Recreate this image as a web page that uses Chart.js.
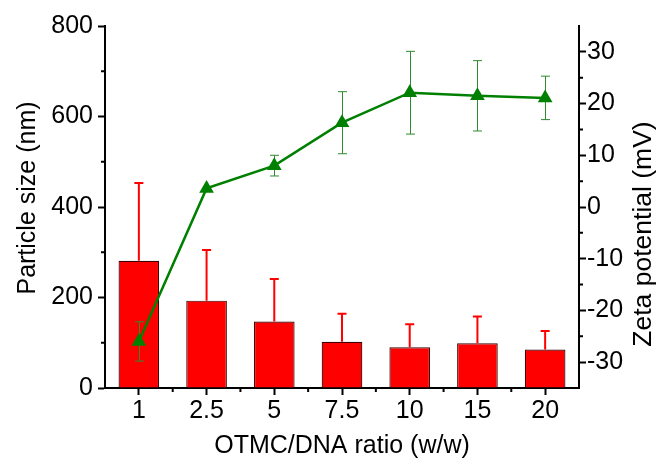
<!DOCTYPE html>
<html>
<head>
<meta charset="utf-8">
<script src="https://cdn.jsdelivr.net/npm/chart.js@4.4.0/dist/chart.umd.min.js"></script>
<style>
  html, body { margin: 0; padding: 0; background: #fff; }
  #wrap { width: 657px; height: 461px; }
</style>
</head>
<body>
<div id="wrap"><canvas id="chart"></canvas></div>
<script>
const ratios = ['1', '2.5', '5', '7.5', '10', '15', '20'];
const particleSize = [281, 193, 147, 102, 90, 99, 85];
const particleErr = [172, 112, 94, 62, 51, 59, 41];
const zeta = [-26, 3.6, 8, 16.3, 22.1, 21.5, 21.1];
const zetaErr = [3.8, 0, 2, 6, 8, 6.8, 4.2];

const xTitle = 'OTMC/DNA ratio (w/w)';
const yTitle = 'Particle size (nm)';
const y2Title = 'Zeta potential (mV)';

const FONT = '"Liberation Sans", Arial, sans-serif';

const errorBars = {
  id: 'errorBars',
  afterDatasetDraw(chart, args) {
    if (args.index !== 0) return;
    const ctx = chart.ctx;
    const y = chart.scales.y;
    const meta = chart.getDatasetMeta(0);
    ctx.save();
    ctx.strokeStyle = '#ff0000';
    ctx.lineWidth = 2;
    meta.data.forEach((bar, i) => {
      const top = y.getPixelForValue(particleSize[i] + particleErr[i]);
      ctx.beginPath();
      ctx.moveTo(bar.x, bar.y);
      ctx.lineTo(bar.x, top);
      ctx.moveTo(bar.x - 4.5, top);
      ctx.lineTo(bar.x + 4.5, top);
      ctx.stroke();
    });
    ctx.restore();
  },
  beforeDatasetDraw(chart, args) {
    if (args.index !== 1) return;
    const ctx = chart.ctx;
    const y2 = chart.scales.y2;
    const meta = chart.getDatasetMeta(1);
    ctx.save();
    ctx.strokeStyle = '#2e8b2e';
    ctx.lineWidth = 1;
    meta.data.forEach((pt, i) => {
      if (!zetaErr[i]) return;
      const hi = y2.getPixelForValue(zeta[i] + zetaErr[i]);
      const lo = y2.getPixelForValue(zeta[i] - zetaErr[i]);
      const x = Math.round(pt.x) + 0.5;
      ctx.beginPath();
      ctx.moveTo(x, hi);
      ctx.lineTo(x, lo);
      ctx.moveTo(x - 4.5, hi);
      ctx.lineTo(x + 4.5, hi);
      ctx.moveTo(x - 4.5, lo);
      ctx.lineTo(x + 4.5, lo);
      ctx.stroke();
    });
    ctx.restore();
  }
};

const decorations = {
  id: 'decorations',
  afterDraw(chart) {
    const ctx = chart.ctx;
    const { x, y, y2 } = chart.scales;
    const area = chart.chartArea;
    ctx.save();
    // minor ticks
    ctx.strokeStyle = '#000';
    ctx.lineWidth = 2;
    ctx.beginPath();
    for (let v = 100; v < 800; v += 200) {
      const py = y.getPixelForValue(v);
      ctx.moveTo(area.left, py);
      ctx.lineTo(area.left - 4, py);
    }
    for (let v = -25; v < 35; v += 10) {
      const py = y2.getPixelForValue(v);
      ctx.moveTo(area.right, py);
      ctx.lineTo(area.right + 4, py);
    }
    for (let i = 0; i < ratios.length - 1; i++) {
      const px = (x.getPixelForValue(i) + x.getPixelForValue(i + 1)) / 2;
      ctx.moveTo(px, area.bottom);
      ctx.lineTo(px, area.bottom + 4);
    }
    ctx.stroke();

    // axis titles
    ctx.fillStyle = '#000';
    ctx.textAlign = 'center';
    ctx.textBaseline = 'alphabetic';
    ctx.font = '25px ' + FONT;
    ctx.fillText(xTitle, (area.left + area.right) / 2, 453);

    ctx.save();
    ctx.translate(35, 198);
    ctx.rotate(-Math.PI / 2);
    ctx.font = '25px ' + FONT;
    ctx.fillText(yTitle, 0, 0);
    ctx.restore();

    ctx.save();
    ctx.translate(651, 234);
    ctx.rotate(-Math.PI / 2);
    ctx.font = '26.5px ' + FONT;
    ctx.fillText(y2Title, 0, 0);
    ctx.restore();

    ctx.restore();
  }
};

const axisStyle = {
  drawOnChartArea: false,
  drawTicks: true,
  tickLength: 7,
  tickWidth: 2,
  color: '#000'
};

new Chart(document.getElementById('chart'), {
  type: 'bar',
  data: {
    labels: ratios,
    datasets: [{
      type: 'bar',
      label: 'Particle size',
      data: particleSize,
      yAxisID: 'y',
      backgroundColor: '#ff0000',
      borderColor: '#3c0000',
      borderWidth: 1.2,
      barPercentage: 0.6,
      categoryPercentage: 1,
      order: 2
    }, {
      type: 'line',
      label: 'Zeta potential',
      data: zeta,
      yAxisID: 'y2',
      borderColor: '#008000',
      backgroundColor: '#008000',
      borderWidth: 2.5,
      pointStyle: 'triangle',
      pointRadius: 8.5,
      pointBorderWidth: 0,
      tension: 0,
      order: 1
    }]
  },
  options: {
    responsive: true,
    maintainAspectRatio: false,
    animation: false,
    layout: { padding: { top: 26, left: 0, right: 0, bottom: 0 } },
    plugins: {
      legend: { display: false },
      tooltip: { enabled: false }
    },
    scales: {
      x: {
        offset: true,
        grid: { ...axisStyle, offset: false },
        border: { display: true, color: '#000', width: 2 },
        ticks: { color: '#000', font: { family: FONT, size: 25 }, padding: 1, maxRotation: 0 },
        afterFit(scale) { scale.height = 73; }
      },
      y: {
        position: 'left',
        min: 0,
        max: 800,
        grid: axisStyle,
        border: { display: true, color: '#000', width: 2 },
        ticks: { stepSize: 200, color: '#000', font: { family: FONT, size: 25 }, padding: 5 },
        afterFit(scale) { scale.width = 105; }
      },
      y2: {
        position: 'right',
        min: -35,
        max: 35,
        grid: axisStyle,
        border: { display: true, color: '#000', width: 2 },
        ticks: {
          color: '#000', font: { family: FONT, size: 25 }, padding: 1,
          crossAlign: 'near',
          stepSize: 5
        },
        afterBuildTicks(scale) {
          scale.ticks = scale.ticks.filter(t => t.value % 10 === 0 && Math.abs(t.value) < 35);
        },
        afterFit(scale) { scale.width = 78; }
      }
    }
  },
  plugins: [errorBars, decorations]
});
</script>
</body>
</html>
